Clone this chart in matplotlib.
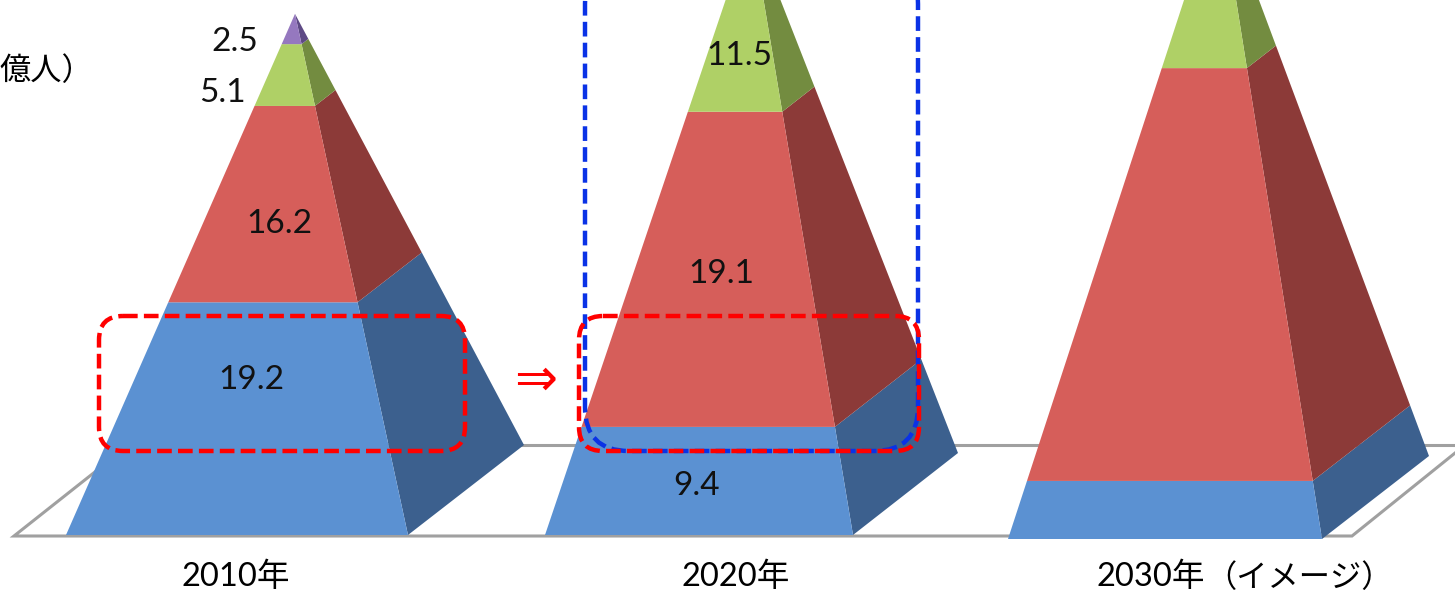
import matplotlib
matplotlib.use("Agg")
import matplotlib.pyplot as plt
from matplotlib.patches import FancyBboxPatch, Polygon

plt.rcParams['font.family'] = ['Lato', 'Noto Sans CJK JP', 'DejaVu Sans']

# Population by income layer (100 million people), bottom layer first
years = ["2010年", "2020年", "2030年"]
values_2010 = [19.2, 16.2, 5.1, 2.5]
values_2020 = [9.4, 19.1, 11.5]
values_2030 = [4.8, 34.4, 14.6]
labelled = [True, True, False]

front_colors = ["#5B91D2", "#D65E5A", "#AFD066", "#9578BF"]
side_colors = ["#3C608E", "#8C3A38", "#738C40", "#5E4A85"]

# pixels per unit of each layer; the later pyramids are stretched
stretch_2010 = [12.12, 12.12, 12.12, 12.12]
stretch_2020 = [11.5, 16.5, 16.26]
stretch_2030 = [12.1, 12.0, 12.0]

# left x, right x, base y, back corner x, back corner y, apex x
frames = [
    (66, 408, 535, 524, 445, 295),
    (545, 853, 535, 958, 453, 751),
    (1008, 1322, 539, 1429, 456, 1219),
]
label_spots = [
    [(251, 380), (279, 224), (222, 93), (235, 42)],
    [(697, 486), (721, 274), (739, 56)],
    [],
]
year_spots = [(236, 577), (736, 577), (1151, 577)]


def lerp(p, q, t):
    return (p[0] + (q[0] - p[0]) * t, p[1] + (q[1] - p[1]) * t)


def draw_pyramid(ax, values, stretch, frame):
    left, right, base, back_x, back_y, apex_x = frame
    heights = [v * s for v, s in zip(values, stretch)]
    total = sum(heights)
    apex = (apex_x, base - total)
    done = 0
    for i, h in enumerate(heights):
        t0 = done / total
        t1 = (done + h) / total
        fl = (left, base)
        fr = (right, base)
        bk = (back_x, back_y)
        front = [lerp(fl, apex, t0), lerp(fr, apex, t0), lerp(fr, apex, t1), lerp(fl, apex, t1)]
        side = [lerp(fr, apex, t0), lerp(bk, apex, t0), lerp(bk, apex, t1), lerp(fr, apex, t1)]
        ax.add_patch(Polygon(side, closed=True, fc=side_colors[i], ec='none', zorder=3))
        ax.add_patch(Polygon(front, closed=True, fc=front_colors[i], ec='none', zorder=3))
        done += h


def dashed_box(ax, x0, y0, x1, y1, radius, color, zorder):
    box = FancyBboxPatch((x0, y0), x1 - x0, y1 - y0,
                         boxstyle=f"round,pad=0,rounding_size={radius}",
                         fc='none', ec=color, lw=3.2,
                         linestyle=(0, (3.3, 1.4)), zorder=zorder)
    ax.add_patch(box)


if __name__ == "__main__":
    fig = plt.figure(figsize=(14.55, 5.9), dpi=100)
    ax = fig.add_axes([0, 0, 1, 1])
    ax.set_xlim(0, 1455)
    ax.set_ylim(590, 0)
    ax.axis('off')

    # floor of the chart
    floor = dict(color='#A0A0A0', lw=2.2, zorder=1, solid_joinstyle='miter')
    ax.plot([129, 14, 1352, 1465], [445, 536, 536, 445], **floor)
    ax.plot([129, 1465], [445, 445], **floor)

    all_values = [values_2010, values_2020, values_2030]
    all_stretch = [stretch_2010, stretch_2020, stretch_2030]
    for values, stretch, frame in zip(all_values, all_stretch, frames):
        draw_pyramid(ax, values, stretch, frame)

    for values, spots, show in zip(all_values, label_spots, labelled):
        if not show:
            continue
        for v, (x, y) in zip(values, spots):
            ax.text(x, y, f"{v:.1f}", fontsize=24, color='#111111',
                    ha='center', va='center', zorder=6)

    for year, (x, y) in zip(years, year_spots):
        ax.text(x, y, year, fontsize=23.5, color='black', ha='center', va='center', zorder=6)
    ax.text(1205, 577, "（イメージ）", fontsize=22.5, color='black', ha='left', va='center', zorder=6)

    ax.text(0, 70, "億人）", fontsize=22.5, color='black', ha='left', va='center', zorder=6)
    ax.text(536, 381, "⇒", fontsize=37, color='#FF0000', ha='center', va='center',
            family=['DejaVu Sans'], zorder=6)

    # highlight boxes
    dashed_box(ax, 585, -40, 918, 451, 44, '#0A32E6', 4)
    dashed_box(ax, 99, 316, 465, 451, 24, '#FF0000', 5)
    dashed_box(ax, 579, 316, 919, 451, 24, '#FF0000', 5)

    fig.savefig("out.png", dpi=100)
